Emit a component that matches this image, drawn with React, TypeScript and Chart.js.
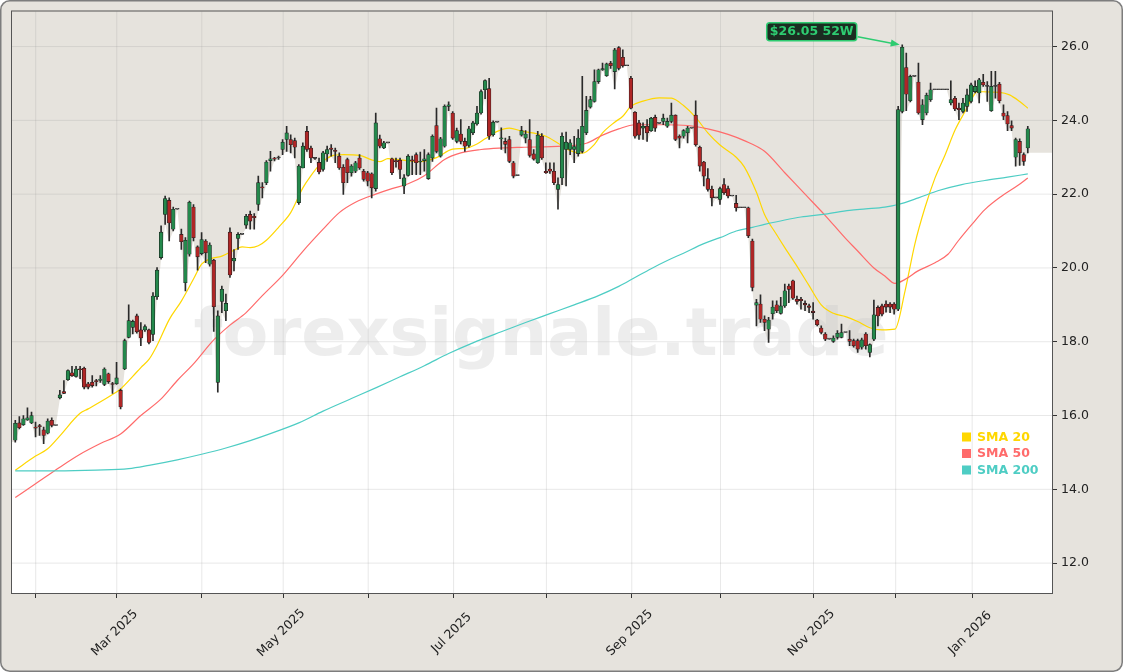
import React, { useEffect, useRef } from "react";
import { Chart, registerables } from "chart.js";
Chart.register(...registerables);

// ---- Candle data (one entry per trading day, index 0..250) ----
const opens = [
  15.33, 15.80, 15.75, 15.88, 15.80, 15.68, 15.72, 15.61, 15.52, 15.87, 15.73,
  16.48, 16.65, 16.97, 17.16, 17.06, 17.25, 17.28, 16.86, 16.90, 16.93,
  16.95, 16.84, 17.13, 16.85, 16.86, 16.68, 17.26, 18.12, 18.39, 18.70,
  18.32, 18.32, 18.32, 18.20, 19.22, 20.28, 21.45, 21.83, 21.05, 21.59,
  20.91, 19.60, 20.37, 21.65, 20.57, 20.39, 20.73, 20.10, 20.21, 16.90,
  19.09, 18.84, 20.97, 20.19, 20.80, 20.91, 21.16, 21.45, 21.40, 21.72,
  22.19, 22.31, 22.91, 22.96, 22.98, 23.21, 23.48, 23.48, 23.45, 21.77,
  22.71, 23.70, 23.25, 22.97, 22.86, 22.67, 23.09, 23.25, 23.17, 23.03,
  22.73, 22.94, 22.58, 22.62, 22.98, 22.62, 22.58, 22.55, 22.15, 23.50,
  23.25, 23.39, 22.96, 22.91, 22.92, 22.22, 22.51, 22.93, 23.07, 22.87,
  22.91, 22.42, 22.98, 23.86, 23.03, 23.30, 24.38, 24.20, 23.43, 23.63,
  23.43, 23.32, 23.66, 23.90, 24.20, 24.83, 24.86, 23.61, 23.95, 23.50,
  23.43, 23.48, 22.85, 22.50, 23.60, 23.52, 23.48, 23.09, 22.85, 23.57,
  22.62, 22.68, 22.62, 22.13, 22.44, 23.21, 23.21, 23.21, 23.10, 23.16,
  23.66, 24.36, 24.51, 25.05, 25.37, 25.21, 25.55, 25.32, 25.97, 25.71,
  25.48, 25.14, 24.22, 23.93, 23.79, 23.84, 23.72, 24.08, 23.92, 23.97,
  23.84, 23.97, 24.14, 23.57, 23.57, 23.66, 23.79, 24.14, 23.27, 22.87,
  22.42, 22.13, 21.90, 21.86, 22.26, 22.15, 21.95, 21.75, 21.63, 21.63,
  21.63, 20.73, 18.99, 19.02, 18.61, 18.34, 18.76, 19.00, 18.77, 18.97,
  19.51, 19.65, 19.15, 19.15, 19.04, 18.97, 18.83, 18.59, 18.37, 18.21,
  18.07, 18.01, 18.12, 18.12, 18.25, 18.07, 18.03, 18.03, 17.85, 18.21,
  17.71, 18.07, 18.93, 18.97, 19.02, 19.02, 19.02, 18.88, 24.24, 25.43,
  24.53, 25.19, 25.04, 24.02, 24.20, 24.56, 24.83, 24.83, 24.83, 24.83,
  24.47, 24.60, 24.33, 24.24, 24.38, 24.51, 24.78, 24.74, 25.03, 24.92,
  24.26, 24.92, 24.98, 24.20, 24.13, 23.86, 23.00, 23.43, 23.07, 23.25,
];
const highs = [
  15.87, 15.97, 16.00, 16.21, 16.09, 15.82, 15.76, 15.69, 15.91, 15.94, 15.73,
  16.68, 16.95, 17.24, 17.33, 17.33, 17.33, 17.31, 16.90, 17.08, 16.98,
  17.08, 17.29, 17.15, 16.90, 17.44, 16.72, 18.07, 19.00, 18.59, 18.75,
  18.52, 18.46, 18.34, 19.33, 20.01, 21.14, 21.95, 21.90, 21.65, 21.59,
  21.05, 20.82, 21.81, 21.72, 20.60, 20.96, 20.77, 20.68, 20.23, 18.84,
  19.51, 19.29, 21.09, 20.50, 20.96, 20.91, 21.45, 21.54, 21.47, 22.49,
  22.31, 22.91, 23.16, 23.00, 23.03, 23.48, 23.84, 23.61, 23.52, 22.80,
  23.39, 23.84, 23.30, 23.00, 22.98, 23.16, 23.30, 23.34, 23.25, 23.12,
  22.80, 22.98, 22.80, 22.89, 23.07, 22.67, 22.62, 22.58, 24.20, 23.60,
  23.43, 23.39, 22.98, 22.98, 22.98, 22.53, 23.07, 23.03, 23.12, 23.14,
  23.21, 23.12, 23.61, 24.33, 23.54, 24.42, 24.50, 24.24, 23.79, 24.02,
  23.52, 23.84, 23.97, 24.38, 24.83, 25.10, 25.14, 23.99, 23.95, 23.80,
  23.52, 23.57, 22.89, 22.50, 23.84, 23.72, 24.02, 23.21, 23.70, 23.64,
  22.85, 22.85, 22.85, 22.44, 23.66, 23.68, 23.48, 23.57, 23.75, 25.19,
  24.65, 24.65, 25.37, 25.39, 25.55, 25.55, 25.60, 25.95, 26.00, 25.91,
  25.48, 25.19, 24.24, 24.00, 23.93, 24.02, 24.08, 24.14, 23.92, 24.17,
  24.06, 24.47, 24.15, 23.61, 23.75, 23.84, 23.79, 24.53, 23.30, 22.89,
  22.69, 22.22, 21.90, 22.19, 22.42, 22.22, 21.95, 21.97, 21.63, 21.63,
  21.65, 20.78, 19.15, 19.27, 18.70, 18.66, 19.11, 19.11, 19.20, 19.56,
  19.56, 19.67, 19.24, 19.20, 19.11, 19.02, 19.06, 18.61, 18.43, 18.25,
  18.07, 18.16, 18.30, 18.48, 18.25, 18.30, 18.07, 18.07, 18.10, 18.25,
  17.94, 19.13, 18.97, 19.02, 19.11, 19.06, 19.06, 24.38, 26.05, 25.82,
  25.23, 25.19, 25.55, 24.56, 24.74, 25.01, 24.83, 24.83, 24.83, 24.83,
  25.07, 24.65, 24.47, 24.60, 24.85, 25.01, 25.07, 25.14, 25.25, 25.05,
  25.33, 25.33, 25.03, 24.42, 24.24, 23.99, 23.52, 23.50, 23.12, 23.84,
];
const lows = [
  15.28, 15.64, 15.73, 15.87, 15.78, 15.42, 15.46, 15.24, 15.50, 15.69, 15.73,
  16.45, 16.59, 16.95, 17.06, 17.04, 17.00, 16.72, 16.72, 16.77, 16.80,
  16.90, 16.81, 16.87, 16.60, 16.84, 16.18, 17.24, 18.10, 18.21, 18.23,
  17.89, 18.28, 17.94, 18.03, 19.15, 20.24, 21.18, 20.73, 21.00, 21.59,
  20.50, 19.38, 20.32, 20.73, 19.94, 20.35, 20.14, 20.05, 18.28, 16.63,
  18.79, 18.57, 19.74, 19.92, 20.50, 20.91, 21.07, 21.05, 21.05, 21.56,
  21.90, 22.26, 22.62, 22.90, 22.94, 23.07, 23.16, 23.12, 22.98, 21.72,
  22.71, 23.16, 22.85, 22.94, 22.55, 22.62, 22.89, 23.03, 22.85, 22.67,
  21.99, 22.31, 22.49, 22.58, 22.67, 22.35, 22.22, 21.90, 22.08, 23.25,
  23.23, 23.39, 22.53, 22.73, 22.42, 22.01, 22.49, 22.53, 22.53, 22.53,
  22.62, 22.40, 22.89, 23.12, 23.00, 23.27, 24.26, 23.48, 23.39, 23.36,
  23.16, 23.27, 23.61, 23.87, 24.17, 24.59, 23.48, 23.57, 23.95, 23.21,
  23.12, 22.85, 22.44, 22.50, 23.57, 23.39, 23.00, 22.92, 22.83, 22.94,
  22.56, 22.56, 22.26, 21.59, 22.26, 22.22, 23.07, 22.85, 23.03, 23.12,
  23.61, 24.33, 24.49, 25.00, 25.35, 25.19, 25.41, 24.85, 25.37, 25.44,
  25.48, 24.31, 23.52, 23.48, 23.48, 23.43, 23.70, 23.70, 23.92, 23.88,
  23.81, 23.93, 23.45, 23.25, 23.52, 23.39, 23.79, 23.30, 22.62, 22.22,
  22.08, 21.68, 21.90, 21.72, 21.99, 21.90, 21.95, 21.54, 21.63, 21.63,
  20.82, 19.38, 18.43, 18.52, 18.30, 17.98, 18.61, 18.79, 18.75, 18.93,
  19.06, 19.15, 19.02, 18.88, 18.84, 18.79, 18.61, 18.43, 18.21, 18.03,
  18.07, 17.98, 18.07, 18.10, 18.25, 17.89, 17.85, 17.71, 17.80, 17.80,
  17.59, 18.03, 18.43, 18.70, 18.80, 18.79, 18.75, 18.84, 24.20, 24.26,
  24.50, 25.19, 24.17, 23.88, 24.15, 24.51, 24.83, 24.83, 24.83, 24.83,
  24.42, 24.26, 24.02, 24.20, 24.24, 24.47, 24.74, 24.47, 24.92, 24.51,
  24.24, 24.60, 24.47, 24.02, 23.72, 23.72, 22.76, 22.78, 22.78, 23.12,
];
const closes = [
  15.79, 15.67, 15.91, 15.94, 16.00, 15.66, 15.70, 15.46, 15.85, 15.73, 15.73,
  16.56, 16.60, 17.22, 17.08, 17.26, 17.24, 16.77, 16.77, 16.81, 16.92,
  16.99, 17.26, 16.92, 16.84, 17.02, 16.23, 18.03, 18.57, 18.55, 18.27,
  18.10, 18.41, 17.98, 19.24, 19.94, 20.97, 21.88, 21.22, 21.59, 21.59,
  20.71, 20.75, 21.78, 20.82, 20.30, 20.77, 20.41, 20.62, 18.95, 18.70,
  19.42, 19.04, 19.81, 20.26, 20.91, 20.91, 21.40, 21.27, 21.36, 22.31,
  22.17, 22.87, 22.96, 22.95, 22.98, 23.41, 23.66, 23.34, 23.27, 22.76,
  23.30, 23.21, 22.98, 22.97, 22.60, 23.12, 23.21, 23.21, 23.16, 22.71,
  22.31, 22.58, 22.76, 22.85, 22.71, 22.40, 22.35, 22.17, 23.93, 23.30,
  23.39, 23.39, 22.58, 22.88, 22.67, 22.44, 23.03, 22.90, 22.85, 22.89,
  22.96, 23.07, 23.57, 23.16, 23.50, 24.38, 24.42, 23.52, 23.72, 23.43,
  23.30, 23.77, 23.93, 24.20, 24.78, 25.08, 23.57, 23.95, 23.95, 23.52,
  23.35, 22.89, 22.49, 22.50, 23.72, 23.63, 23.05, 22.95, 23.60, 22.98,
  22.58, 22.62, 22.31, 22.26, 23.57, 23.41, 23.39, 23.29, 23.52, 23.84,
  24.27, 24.56, 25.05, 25.37, 25.40, 25.53, 25.48, 25.91, 25.41, 25.48,
  25.48, 24.33, 23.57, 23.60, 23.84, 23.66, 24.06, 23.79, 23.92, 24.06,
  23.97, 24.14, 23.48, 23.52, 23.72, 23.79, 23.79, 23.34, 22.76, 22.49,
  22.13, 21.90, 21.90, 22.15, 22.04, 21.95, 21.95, 21.63, 21.63, 21.63,
  20.87, 19.47, 19.06, 18.61, 18.52, 18.59, 18.94, 18.84, 18.97, 19.38,
  19.42, 19.18, 19.09, 19.11, 19.00, 18.93, 18.79, 18.46, 18.25, 18.07,
  18.07, 18.10, 18.23, 18.25, 18.25, 18.01, 17.89, 17.80, 18.05, 17.89,
  17.92, 18.73, 18.70, 18.75, 18.94, 18.94, 18.88, 24.29, 25.98, 24.71,
  25.19, 25.19, 24.20, 24.42, 24.68, 24.83, 24.83, 24.83, 24.83, 24.83,
  24.56, 24.31, 24.29, 24.47, 24.69, 24.96, 24.92, 25.10, 24.96, 24.92,
  24.92, 24.92, 24.53, 24.11, 23.90, 23.79, 23.48, 23.12, 22.89, 23.77,
];

// ---- Moving averages at sample positions (trading-day index) ----
const sma20Idx = [0, 5, 8, 11, 16, 18, 23, 26, 29, 31, 33, 35, 38, 41, 44, 46, 48, 51, 54, 56, 58, 60, 62, 65, 68, 71, 73, 75, 78, 81, 85, 88, 90, 92, 95, 100, 104, 108, 111, 114, 116, 119, 122, 125, 129, 131, 134, 137, 140, 143, 145, 148, 150, 152, 155, 159, 162, 165, 168, 171, 174, 178, 180, 183, 185, 188, 190, 193, 196, 199, 202, 205, 208, 211, 214, 217.2, 219.7, 222.1, 224.6, 227.1, 229.6, 232.1, 234.5, 236.5, 237.5, 240, 243, 245.5, 248, 250];
const sma20 = [14.52, 14.9, 15.1, 15.45, 16.06, 16.18, 16.5, 16.72, 17.06, 17.3, 17.52, 17.9, 18.6, 19.1, 19.7, 20.1, 20.24, 20.32, 20.48, 20.57, 20.55, 20.6, 20.75, 21.1, 21.5, 22.17, 22.5, 22.78, 23.03, 23.07, 23.05, 22.93, 22.88, 22.96, 22.93, 22.88, 22.99, 23.22, 23.24, 23.36, 23.5, 23.7, 23.79, 23.71, 23.63, 23.57, 23.38, 23.18, 23.11, 23.35, 23.66, 23.95, 24.11, 24.38, 24.52, 24.61, 24.6, 24.4, 24.08, 23.66, 23.33, 23.0, 22.74, 22.05, 21.45, 20.9, 20.55, 20.05, 19.52, 19.0, 18.77, 18.68, 18.55, 18.38, 18.32, 18.34, 19.38, 20.64, 21.63, 22.44, 23.07, 23.75, 24.24, 24.65, 24.78, 24.77, 24.76, 24.69, 24.51, 24.33];

const sma50Idx = [0, 5, 11, 16, 21, 26, 31, 36, 40, 44, 49, 53, 57, 61, 66, 71, 76, 80, 84, 89, 93, 97, 101, 106, 110, 115, 120, 125, 135, 141, 145, 149, 153, 160, 166, 171, 176, 180, 185, 190, 195, 200, 205, 208, 212, 214.7, 217.2, 219.7, 222.9, 227.1, 230.3, 232.8, 236.2, 239.4, 243.6, 247.6, 250];
const sma50 = [13.78, 14.15, 14.6, 14.95, 15.24, 15.5, 16.0, 16.45, 16.95, 17.4, 18.05, 18.45, 18.79, 19.25, 19.8, 20.45, 21.05, 21.5, 21.78, 22.0, 22.15, 22.28, 22.5, 22.94, 23.12, 23.21, 23.25, 23.27, 23.3, 23.38, 23.6, 23.77, 23.88, 23.88, 23.86, 23.77, 23.62, 23.45, 23.16, 22.58, 22.0, 21.42, 20.8, 20.46, 20.0, 19.78, 19.58, 19.69, 19.92, 20.14, 20.37, 20.73, 21.18, 21.58, 21.95, 22.24, 22.44];

const sma200Idx = [0, 10, 20, 28, 33, 40, 46, 52, 58, 64, 70, 76, 83, 89, 95, 101, 107, 113, 120, 126, 132, 138, 144, 149, 153, 157, 161, 165, 170, 174, 178, 182, 185, 190, 194, 200, 206, 210, 214.7, 218, 223, 228, 233.7, 239.4, 245, 250];
const sma200 = [14.5, 14.5, 14.52, 14.56, 14.65, 14.8, 14.95, 15.12, 15.32, 15.55, 15.8, 16.12, 16.46, 16.75, 17.05, 17.35, 17.68, 17.97, 18.27, 18.52, 18.76, 19.0, 19.25, 19.5, 19.74, 19.98, 20.2, 20.4, 20.66, 20.82, 21.0, 21.1, 21.18, 21.3, 21.38, 21.46, 21.56, 21.6, 21.65, 21.72, 21.9, 22.1, 22.26, 22.37, 22.46, 22.55];

// ---- Axes ----
const monthTickIdx = [5.04, 25.06, 46.05, 66.15, 87.14, 108.22, 131.14, 152.22, 174.12, 197.09, 217.38, 236.27];
const monthTickLabels = ["", "Mar 2025", "", "May 2025", "", "Jul 2025", "", "Sep 2025", "", "Nov 2025", "", "Jan 2026"];
const yTicks = [12, 14, 16, 18, 20, 22, 24, 26];
const X_MIN = -0.815;
const X_MAX = 255.98;
const Y_MIN = 11.19;
const Y_MAX = 26.95;

const legendItems = ["SMA 20", "SMA 50", "SMA 200"];
const annotationText = "$26.05 52W";
const watermarkText = "forexsignale.trade";

// ---- Styles ----
const BEIGE = "#e6e3dd";
const GRID = "rgba(150,150,150,0.28)";
const C20 = "#FFD700";
const C50 = "#FF6B6B";
const C200 = "#4ECDC4";
const UP = "#24894c";
const DOWN = "#b02626";
const FLAT = "#555555";
const EDGE = "#1e1e1e";
const WICK = "#2a2a2a";
const FONT = '"DejaVu Sans", "Liberation Sans", sans-serif';

function roundRectPath(ctx: CanvasRenderingContext2D, x: number, y: number, w: number, h: number, r: number) {
  ctx.beginPath();
  ctx.moveTo(x + r, y);
  ctx.arcTo(x + w, y, x + w, y + h, r);
  ctx.arcTo(x + w, y + h, x, y + h, r);
  ctx.arcTo(x, y + h, x, y, r);
  ctx.arcTo(x, y, x + w, y, r);
  ctx.closePath();
}

export default function App() {
  const ref = useRef<HTMLCanvasElement>(null);

  useEffect(() => {
    document.body.style.margin = "0";
    const canvas = ref.current!;

    const fillData = [
      { x: X_MIN, y: lows[0] },
      ...lows.map((v, i) => ({ x: i, y: v })),
      { x: X_MAX, y: lows[lows.length - 1] },
    ];
    const wickData = lows.map((l, i) => ({ x: i, y: [l, highs[i]] }));
    const bodyData = opens.map((o, i) => ({ x: i, y: [o, closes[i]] }));
    const bodyColors = opens.map((o, i) => (closes[i] > o ? UP : closes[i] < o ? DOWN : FLAT));
    const line = (idx: number[], vals: number[]) => idx.map((x, k) => ({ x, y: vals[k] }));

    const decor = {
      id: "decor",
      beforeDraw(chart: any) {
        const { ctx, width, height } = chart;
        ctx.save();
        roundRectPath(ctx, 0.75, 0.75, width - 1.5, height - 1.5, 9);
        ctx.fillStyle = BEIGE;
        ctx.fill();
        ctx.lineWidth = 1.5;
        ctx.strokeStyle = "#7d7d7d";
        ctx.stroke();
        ctx.restore();
      },
      afterDatasetDraw(chart: any, args: any) {
        if (args.index !== 0) return;
        const { ctx, chartArea: a, scales } = chart;
        const xs = scales.x, ys = scales.y;
        ctx.save();
        ctx.strokeStyle = GRID;
        ctx.lineWidth = 0.8;
        monthTickIdx.forEach((v) => {
          const px = xs.getPixelForValue(v);
          ctx.beginPath();
          ctx.moveTo(px, a.top);
          ctx.lineTo(px, a.bottom);
          ctx.stroke();
        });
        yTicks.forEach((v) => {
          const py = ys.getPixelForValue(v);
          ctx.beginPath();
          ctx.moveTo(a.left, py);
          ctx.lineTo(a.right, py);
          ctx.stroke();
        });
        ctx.beginPath();
        ctx.rect(a.left, a.top, a.width, a.height);
        ctx.clip();
        ctx.font = `bold 66.7px ${FONT}`;
        ctx.fillStyle = "rgba(200,200,200,0.33)";
        ctx.textAlign = "center";
        ctx.textBaseline = "alphabetic";
        ctx.fillText(watermarkText, 541, 355);
        ctx.restore();
      },
      afterDraw(chart: any) {
        const { ctx, chartArea: a, scales } = chart;
        const xs = scales.x, ys = scales.y;
        ctx.save();
        // frame
        ctx.strokeStyle = "#555";
        ctx.lineWidth = 1;
        ctx.strokeRect(a.left - 0.5, a.top - 0.5, a.width + 1, a.height + 1);
        // x labels
        ctx.fillStyle = "#222";
        ctx.font = `12.5px ${FONT}`;
        ctx.textAlign = "center";
        ctx.textBaseline = "middle";
        monthTickIdx.forEach((v, k) => {
          const lab = monthTickLabels[k];
          if (!lab) return;
          const px = xs.getPixelForValue(v);
          ctx.save();
          ctx.translate(px - 2, a.bottom + 40);
          ctx.rotate(-Math.PI / 4);
          ctx.fillText(lab, 0, 0);
          ctx.restore();
        });
        // legend
        const cols = [C20, C50, C200];
        ctx.font = `bold 12.5px ${FONT}`;
        ctx.textAlign = "left";
        legendItems.forEach((t, k) => {
          const yy = 437 + k * 16.5;
          ctx.fillStyle = cols[k];
          ctx.fillRect(962, yy - 4.5, 9, 9);
          ctx.fillText(t, 977, yy + 0.5);
        });
        // annotation for 52W high
        let im = 0;
        highs.forEach((h, i) => { if (h > highs[im]) im = i; });
        const tx = xs.getPixelForValue(im) - 2.5;
        const ty = ys.getPixelForValue(highs[im]);
        const bx = tx - 133, by = ty - 22, bw = 90, bh = 18;
        roundRectPath(ctx, bx, by, bw, bh, 3);
        ctx.fillStyle = "#1b2d21";
        ctx.fill();
        ctx.strokeStyle = "#2ecc71";
        ctx.lineWidth = 1.5;
        ctx.stroke();
        ctx.fillStyle = "#2ecc71";
        ctx.font = `bold 12.5px ${FONT}`;
        ctx.textAlign = "center";
        ctx.textBaseline = "middle";
        ctx.fillText(annotationText, bx + bw / 2, by + bh / 2 + 0.5);
        const sx = tx - 42, sy = ty - 8;
        const ang = Math.atan2(ty - sy, tx - sx);
        const c = Math.cos(ang), s = Math.sin(ang);
        ctx.beginPath();
        ctx.moveTo(sx, sy);
        ctx.lineTo(tx - 7 * c, ty - 7 * s);
        ctx.stroke();
        ctx.beginPath();
        ctx.moveTo(tx, ty);
        ctx.lineTo(tx - 9 * c + 3.5 * s, ty - 9 * s - 3.5 * c);
        ctx.lineTo(tx - 9 * c - 3.5 * s, ty - 9 * s + 3.5 * c);
        ctx.closePath();
        ctx.fill();
        ctx.restore();
      },
    };

    const chart = new Chart(canvas, {
      type: "bar",
      data: {
        datasets: [
          {
            type: "line",
            data: fillData as any,
            fill: "start",
            backgroundColor: "#ffffff",
            borderWidth: 0,
            pointRadius: 0,
            tension: 0,
            order: 10,
          } as any,
          {
            type: "line",
            data: line(sma200Idx, sma200) as any,
            borderColor: C200,
            borderWidth: 1.2,
            pointRadius: 0,
            fill: false,
            cubicInterpolationMode: "monotone",
            order: 5,
          } as any,
          {
            type: "line",
            data: line(sma50Idx, sma50) as any,
            borderColor: C50,
            borderWidth: 1.2,
            pointRadius: 0,
            fill: false,
            cubicInterpolationMode: "monotone",
            order: 5,
          } as any,
          {
            type: "line",
            data: line(sma20Idx, sma20) as any,
            borderColor: C20,
            borderWidth: 1.2,
            pointRadius: 0,
            fill: false,
            cubicInterpolationMode: "monotone",
            order: 5,
          } as any,
          {
            type: "bar",
            data: wickData as any,
            backgroundColor: WICK,
            barThickness: 1,
            grouped: false,
            borderWidth: 0,
            order: 2,
          } as any,
          {
            type: "bar",
            data: bodyData as any,
            backgroundColor: bodyColors,
            borderColor: EDGE,
            borderWidth: 0.6,
            borderSkipped: false,
            barThickness: 3.6,
            minBarLength: 1,
            grouped: false,
            order: 1,
          } as any,
        ],
      },
      options: {
        responsive: false,
        animation: false,
        devicePixelRatio: 1,
        events: [],
        layout: { padding: { left: 12, top: 10, right: 0, bottom: 0 } },
        plugins: { legend: { display: false }, tooltip: { enabled: false } },
        scales: {
          x: {
            type: "linear",
            min: X_MIN,
            max: X_MAX,
            offset: false,
            afterBuildTicks: (ax: any) => {
              ax.ticks = monthTickIdx.map((v) => ({ value: v }));
            },
            afterFit: (s: any) => {
              s.height = 79;
            },
            ticks: { autoSkip: false, maxRotation: 0, minRotation: 0, callback: () => "" },
            grid: { offset: false, drawOnChartArea: false, drawTicks: true, tickLength: 5, tickColor: "#333", tickWidth: 1 },
            border: { display: false },
          },
          y: {
            type: "linear",
            position: "right",
            min: Y_MIN,
            max: Y_MAX,
            afterBuildTicks: (ax: any) => {
              ax.ticks = yTicks.map((v) => ({ value: v }));
            },
            afterFit: (s: any) => {
              s.width = 71;
            },
            ticks: {
              callback: (v: any) => Number(v).toFixed(1),
              color: "#222",
              font: { family: FONT, size: 12.5 },
              padding: 4,
            },
            grid: { drawOnChartArea: false, drawTicks: true, tickLength: 5, tickColor: "#333", tickWidth: 1 },
            border: { display: false },
          },
        },
      } as any,
      plugins: [decor as any],
    });
    return () => chart.destroy();
  }, []);

  return <canvas ref={ref} width={1123} height={672} style={{ display: "block", width: 1123, height: 672 }} />;
}
